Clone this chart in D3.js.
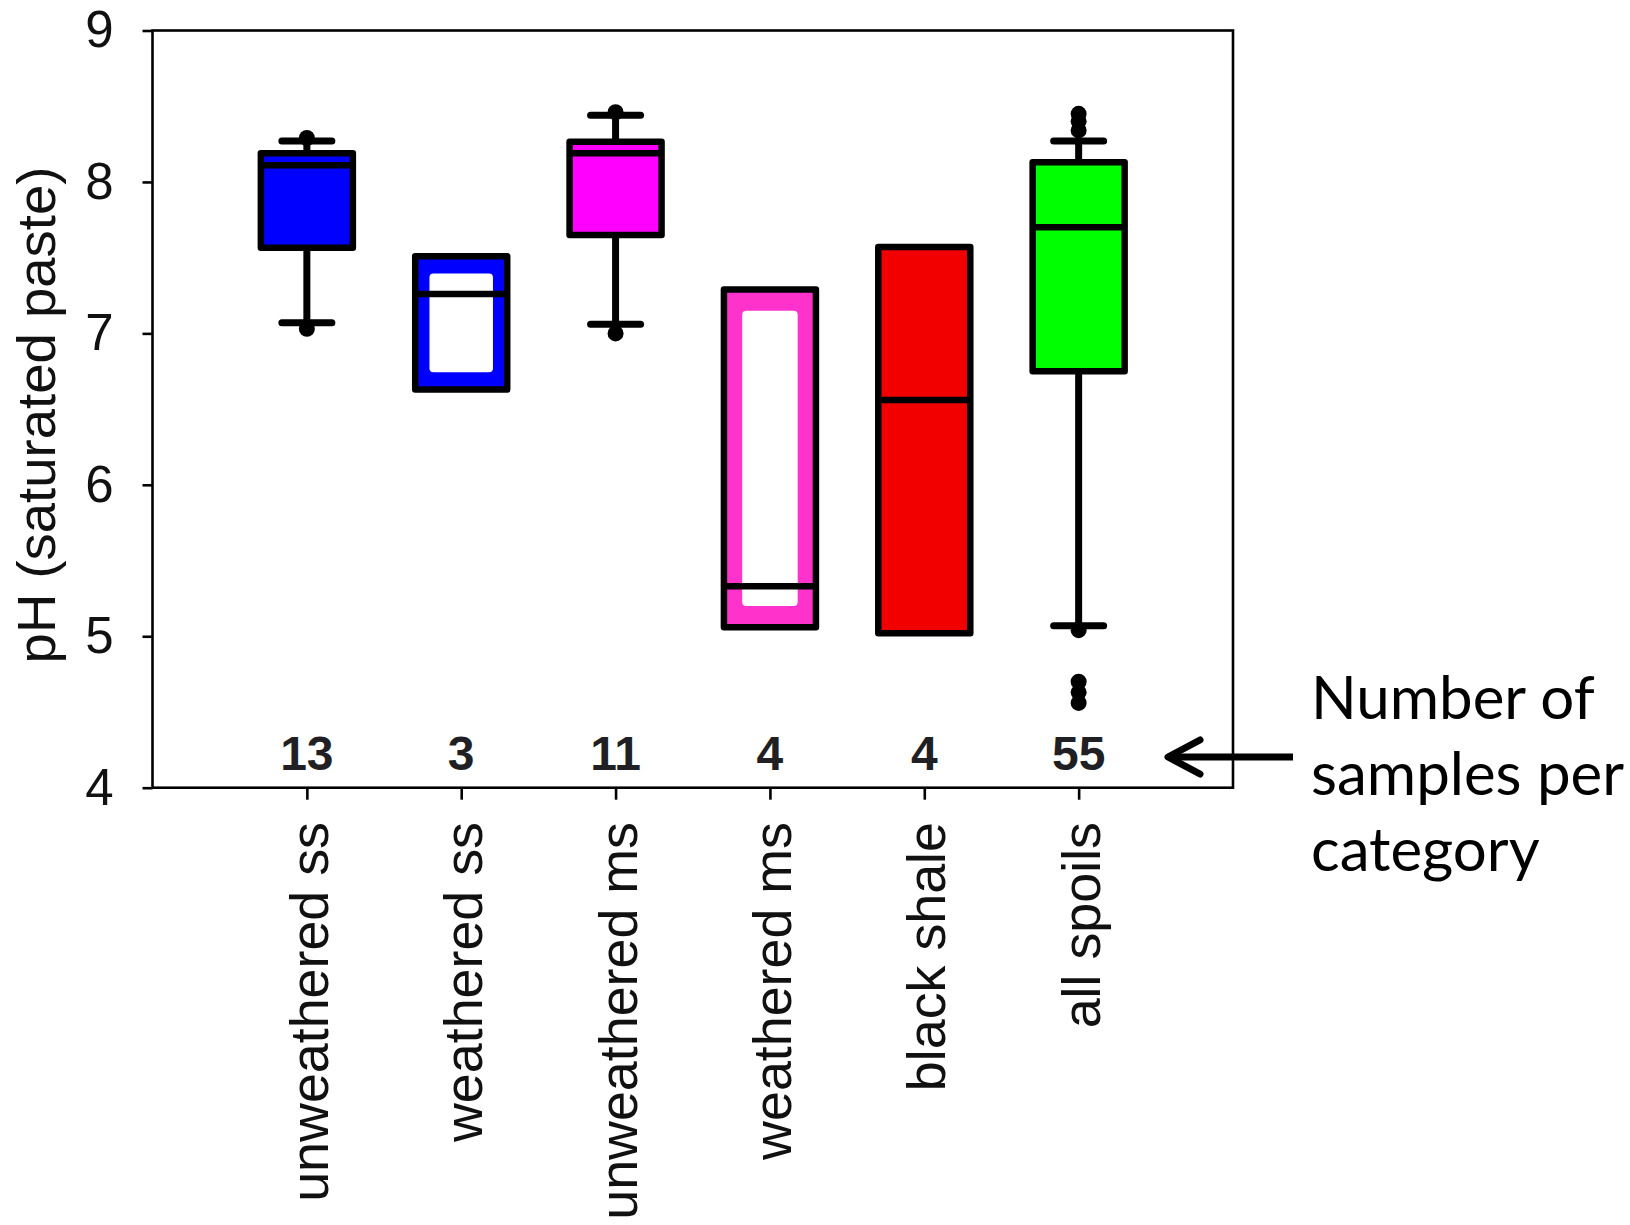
<!DOCTYPE html>
<html>
<head>
<meta charset="utf-8">
<script src="https://cdn.jsdelivr.net/npm/d3@7"></script>
<style>
  html, body { margin: 0; padding: 0; background: #fff; }
  svg { display: block; }
</style>
</head>
<body>
<svg id="chart" width="1630" height="1225"></svg>
<script>
// Spoil categories and box-plot statistics (pH, saturated paste)
const categories = ["unweathered ss", "weathered ss", "unweathered ms", "weathered ms", "black shale", "all spoils"];
const q1Values = [7.565, 6.63, 7.65, 5.06, 5.02, 6.75];
const medianValues = [8.11, 7.26, 8.19, 5.33, 6.56, 7.70];
const q3Values = [8.19, 7.51, 8.265, 7.29, 7.57, 8.13];
const whiskerLow = [7.07, null, 7.06, null, null, 5.07];
const whiskerHigh = [8.27, null, 8.44, null, null, 8.27];
const outlierValues = [[8.29, 7.03], [], [8.46, 7.0], [], [], [8.45, 8.40, 8.34, 5.04, 4.70, 4.63, 4.56]];
const sampleCounts = [13, 3, 11, 4, 4, 55];
const yTickValues = [4, 5, 6, 7, 8, 9];

// Box appearance per category
const boxFill = ["#0000ff", "#0000ff", "#ff00ff", "#ff33cc", "#f20000", "#00ff00"];
const boxHollowBand = [0, 11, 0, 15, 0, 0]; // >0: coloured frame with white interior

const svg = d3.select("#chart");
const plot = { left: 152.5, right: 1233, top: 30.5, bottom: 787.7 };

const y = d3.scaleLinear().domain([4, 9]).range([plot.bottom, plot.top]);
const x = d3.scalePoint().domain(categories).range([plot.left, plot.right]).padding(1);

const boxW = 92, boxStroke = 6.5, capW = 50;
const sans = "'Liberation Sans', Arial, sans-serif";

// Frame
svg.append("rect")
  .attr("x", plot.left).attr("y", plot.top)
  .attr("width", plot.right - plot.left).attr("height", plot.bottom - plot.top)
  .attr("fill", "none").attr("stroke", "#000").attr("stroke-width", 2.6);

// Y axis
const yAxis = svg.append("g")
  .attr("transform", `translate(${plot.left},0)`)
  .call(d3.axisLeft(y).tickValues(yTickValues).tickSize(10).tickSizeOuter(0).tickPadding(29).tickFormat(d3.format("d")));
yAxis.select(".domain").remove();
yAxis.selectAll(".tick line").attr("stroke", "#000").attr("stroke-width", 2.6);
yAxis.selectAll(".tick text")
  .attr("font-family", sans)
  .attr("font-size", 51).attr("fill", "#111");

// X axis ticks (labels drawn rotated below)
const xAxis = svg.append("g")
  .attr("transform", `translate(0,${plot.bottom})`)
  .call(d3.axisBottom(x).tickSize(12).tickSizeOuter(0).tickFormat(""));
xAxis.select(".domain").remove();
xAxis.selectAll(".tick line").attr("stroke", "#000").attr("stroke-width", 2.6);

svg.append("g").selectAll("text")
  .data(categories)
  .join("text")
  .attr("transform", d => `translate(${x(d) + 21},822) rotate(-90)`)
  .attr("text-anchor", "end")
  .attr("font-family", sans)
  .attr("font-size", 53.8).attr("fill", "#111")
  .text(d => d);

// Y axis title
svg.append("text")
  .attr("transform", "translate(55,415) rotate(-90)")
  .attr("text-anchor", "middle")
  .attr("font-family", sans)
  .attr("font-size", 54.5).attr("fill", "#111")
  .text("pH (saturated paste)");

// Box plots
const boxes = svg.append("g");
categories.forEach((cat, i) => {
  const cx = x(cat);
  const g = boxes.append("g");

  // Whiskers and caps
  if (whiskerHigh[i] != null) {
    g.append("line")
      .attr("x1", cx).attr("x2", cx).attr("y1", y(q3Values[i])).attr("y2", y(whiskerHigh[i]))
      .attr("stroke", "#000").attr("stroke-width", 7);
    g.append("line")
      .attr("x1", cx - capW / 2).attr("x2", cx + capW / 2).attr("y1", y(whiskerHigh[i])).attr("y2", y(whiskerHigh[i]))
      .attr("stroke", "#000").attr("stroke-width", 7).attr("stroke-linecap", "round");
  }
  if (whiskerLow[i] != null) {
    g.append("line")
      .attr("x1", cx).attr("x2", cx).attr("y1", y(q1Values[i])).attr("y2", y(whiskerLow[i]))
      .attr("stroke", "#000").attr("stroke-width", 7);
    g.append("line")
      .attr("x1", cx - capW / 2).attr("x2", cx + capW / 2).attr("y1", y(whiskerLow[i])).attr("y2", y(whiskerLow[i]))
      .attr("stroke", "#000").attr("stroke-width", 7).attr("stroke-linecap", "round");
  }

  // Outlier points
  g.selectAll("circle")
    .data(outlierValues[i])
    .join("circle")
    .attr("cx", cx).attr("cy", d => y(d)).attr("r", 8).attr("fill", "#000");

  // Box body
  const top = y(q3Values[i]), bot = y(q1Values[i]);
  const x0 = cx - boxW / 2;
  g.append("rect")
    .attr("x", x0).attr("y", top).attr("width", boxW).attr("height", bot - top)
    .attr("fill", boxFill[i]);

  const band = boxHollowBand[i];
  if (band > 0) {
    const inset = boxStroke / 2 + band;
    g.append("rect")
      .attr("x", x0 + inset).attr("y", top + inset + 3)
      .attr("width", boxW - 2 * inset).attr("height", bot - top - 2 * inset - 6)
      .attr("rx", 4).attr("fill", "#fff");
  }

  // Median
  g.append("line")
    .attr("x1", x0).attr("x2", x0 + boxW)
    .attr("y1", y(medianValues[i])).attr("y2", y(medianValues[i]))
    .attr("stroke", "#000").attr("stroke-width", 6.5);

  g.append("rect")
    .attr("x", x0).attr("y", top).attr("width", boxW).attr("height", bot - top)
    .attr("fill", "none").attr("stroke", "#000").attr("stroke-width", boxStroke)
    .attr("stroke-linejoin", "round");
});

// Sample counts
svg.append("g").selectAll("text")
  .data(categories)
  .join("text")
  .attr("x", d => x(d)).attr("y", 770)
  .attr("text-anchor", "middle")
  .attr("font-family", sans)
  .attr("font-weight", "bold").attr("font-size", 48).attr("fill", "#1f1f24")
  .text((d, i) => sampleCounts[i]);

// Annotation
const note = svg.append("g");
note.append("line")
  .attr("x1", 1293).attr("x2", 1169).attr("y1", 757).attr("y2", 757)
  .attr("stroke", "#000").attr("stroke-width", 7);
note.append("polyline")
  .attr("points", "1200,740 1168,757 1200,774")
  .attr("fill", "none").attr("stroke", "#000").attr("stroke-width", 7)
  .attr("stroke-linecap", "round").attr("stroke-linejoin", "round");
note.append("text")
  .attr("font-family", "Lato, 'Open Sans', sans-serif")
  .attr("font-size", 60).attr("fill", "#000")
  .selectAll("tspan")
  .data(["Number of", "samples per", "category"])
  .join("tspan")
  .attr("x", 1311).attr("y", (d, i) => 719 + i * 76)
  .text(d => d);
</script>
</body>
</html>
